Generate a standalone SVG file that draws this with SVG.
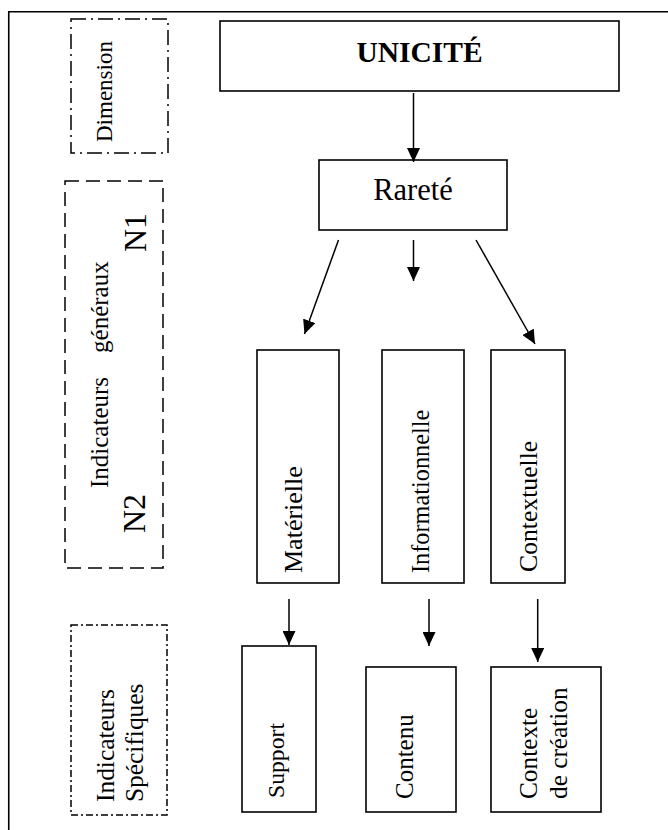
<svg xmlns="http://www.w3.org/2000/svg" width="668" height="830" viewBox="0 0 668 830">
  <style>
    .box { fill: #ffffff; stroke: #000000; stroke-width: 1.6; }
    .band { fill: none; stroke: #000000; stroke-width: 1.5; }
    .dashdot { stroke-dasharray: 15 5 2 5; }
    .dashed { stroke-dasharray: 14 7; }
    .dashdot-fine { stroke-dasharray: 7 3 2 3; }
    .lbl { font-family: "Liberation Serif", "Times New Roman", serif; fill: #000000; }
    .link { fill: none; stroke: #000000; stroke-width: 1.5; marker-end: url(#head); }
  </style>
  <defs>
    <marker id="head" viewBox="0 0 14 13" refX="14" refY="6.5" markerWidth="14" markerHeight="13" markerUnits="userSpaceOnUse" orient="auto">
      <path d="M0,0 L14,6.5 L0,13 z" fill="#000000"/>
    </marker>
  </defs>

  <rect width="668" height="830" fill="#ffffff"/>

  <!-- page frame -->
  <path d="M8.75,830 L8.75,11.75 L668,11.75" fill="none" stroke="#000000" stroke-width="1.6"/>

  <!-- level bands on the left -->
  <g id="band-dimension">
    <rect class="band dashdot" x="71" y="19" width="97" height="134"/>
    <text class="lbl" font-size="23" transform="translate(112,142) rotate(-90)">Dimension</text>
  </g>
  <g id="band-generaux">
    <rect class="band dashed" x="65" y="181" width="98" height="387"/>
    <text class="lbl" font-size="25" transform="translate(108,488) rotate(-90)"><tspan>Indicateurs</tspan><tspan dx="24">généraux</tspan></text>
    <text class="lbl" font-size="32" transform="translate(146,252) rotate(-90)">N1</text>
    <text class="lbl" font-size="32" transform="translate(145,533) rotate(-90)">N2</text>
  </g>
  <g id="band-specifiques">
    <rect class="band dashdot-fine" x="71" y="625" width="96" height="190"/>
    <text class="lbl" font-size="25.4" transform="translate(114,802) rotate(-90)">
      <tspan x="0" y="0">Indicateurs</tspan>
      <tspan x="0" y="29">Spécifiques</tspan>
    </text>
  </g>

  <!-- nodes -->
  <g id="unicite">
    <rect class="box" x="220" y="21" width="399" height="70"/>
    <text class="lbl" font-size="29.5" font-weight="bold" text-anchor="middle" x="419.5" y="62">UNICITÉ</text>
  </g>
  <g id="rarete">
    <rect class="box" x="319" y="160" width="188" height="70"/>
    <text class="lbl" font-size="30.5" text-anchor="middle" x="413" y="200">Rareté</text>
  </g>
  <g id="materielle">
    <rect class="box" x="257" y="350" width="82" height="233"/>
    <text class="lbl" font-size="26" transform="translate(301.5,573) rotate(-90)">Matérielle</text>
  </g>
  <g id="informationnelle">
    <rect class="box" x="382" y="350" width="82" height="233"/>
    <text class="lbl" font-size="24.3" transform="translate(428.5,573) rotate(-90)">Informationnelle</text>
  </g>
  <g id="contextuelle">
    <rect class="box" x="491" y="350" width="74" height="233"/>
    <text class="lbl" font-size="25.7" transform="translate(536.5,572) rotate(-90)">Contextuelle</text>
  </g>
  <g id="support">
    <rect class="box" x="242" y="646" width="74" height="166"/>
    <text class="lbl" font-size="23.7" transform="translate(284,798) rotate(-90)">Support</text>
  </g>
  <g id="contenu">
    <rect class="box" x="366" y="667" width="90" height="145"/>
    <text class="lbl" font-size="25" transform="translate(413,799) rotate(-90)">Contenu</text>
  </g>
  <g id="contexte-creation">
    <rect class="box" x="491" y="667" width="110" height="145"/>
    <text class="lbl" font-size="25.3" transform="translate(537,799) rotate(-90)">
      <tspan x="0" y="0">Contexte</tspan>
      <tspan x="0" y="30">de création</tspan>
    </text>
  </g>

  <!-- connectors -->
  <g id="connectors">
    <line class="link" x1="413.5" y1="93" x2="413.5" y2="162"/>
    <line class="link" x1="338.5" y1="240" x2="304.5" y2="334"/>
    <line class="link" x1="413.5" y1="240" x2="413.5" y2="281"/>
    <line class="link" x1="476" y1="240" x2="535" y2="344"/>
    <line class="link" x1="289" y1="599" x2="289" y2="645"/>
    <line class="link" x1="429" y1="599" x2="429" y2="646"/>
    <line class="link" x1="537.7" y1="599" x2="537.7" y2="662"/>
  </g>
</svg>
